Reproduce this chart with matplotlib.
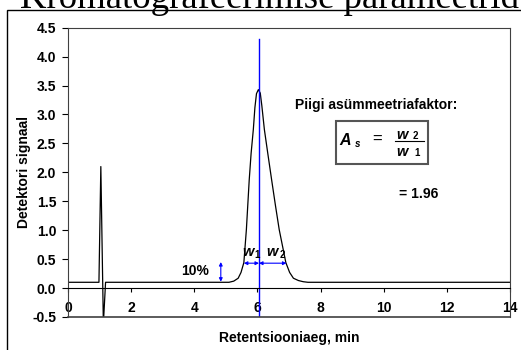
import numpy as np
import matplotlib
matplotlib.use('Agg')
import matplotlib.pyplot as plt
from matplotlib.patches import Rectangle

plt.rcParams['font.family'] = ['Liberation Sans', 'DejaVu Sans']
plt.rcParams['font.weight'] = 'bold'
plt.rcParams['axes.labelweight'] = 'bold'

# chromatogram
time = [0, 0.98, 1.04, 1.12, 1.19, 5.1, 5.25, 5.39, 5.48, 5.57, 5.65, 5.74, 5.80,
        5.87, 5.92, 5.97, 6.03, 6.09, 6.14, 6.22, 6.33, 6.45, 6.57, 6.69, 6.90,
        7.02, 7.14, 7.3, 7.45, 7.6, 14]
signal = [0.1, 0.1, 2.1, -0.62, 0.1, 0.1, 0.12, 0.17, 0.27, 0.44, 1.01, 1.87, 2.33,
          2.74, 3.12, 3.36, 3.43, 3.37, 3.15, 2.74, 2.32, 1.87, 1.43, 1.01, 0.44,
          0.27, 0.17, 0.13, 0.11, 0.1, 0.1]

peak_t = 6.05
peak_line_top = 4.3
w_level = 0.43
w1_start = 5.57
w2_end = 6.92
ten_x = 4.84
ten_low, ten_high = 0.11, 0.45
asym = 1.96

xticks = np.arange(0, 15, 2)
yticks = np.arange(-0.5, 4.51, 0.5)

fs = 10

fig = plt.figure(figsize=(5.21, 3.5), dpi=100)
fig.patches.append(Rectangle((0.0134, -0.1), 1.2, 0.1 + 0.971, transform=fig.transFigure,
                             fill=False, edgecolor='black', lw=1))
fig.text(20 / 521, 1 - 7.5 / 350, 'Kromatografeerimise parameetrid',
         family='Liberation Serif', fontweight='normal', fontsize=26.5, va='baseline', ha='left')

ax = fig.add_axes([68 / 521, 1 - 317 / 350, (510 - 68) / 521, (317 - 27.7) / 350])
ax.plot(time, signal, color='black', lw=0.9)
ax.plot([peak_t, peak_t], [-0.5, peak_line_top], color='blue', lw=1)

arrow = dict(arrowstyle='<|-|>', color='blue', lw=0.8, mutation_scale=5, shrinkA=0, shrinkB=0)
ax.annotate('', xy=(w1_start, w_level), xytext=(peak_t, w_level), arrowprops=arrow)
ax.annotate('', xy=(peak_t, w_level), xytext=(w2_end, w_level), arrowprops=arrow)
ax.annotate('', xy=(ten_x, ten_low), xytext=(ten_x, ten_high), arrowprops=arrow)

ax.text(4.04, 0.29, '10%', fontsize=fs, ha='center', va='center')
ax.text(5.52, 0.56, 'w', fontsize=10.5, style='italic', ha='left', va='baseline')
ax.text(5.89, 0.52, '1', fontsize=7, ha='left', va='baseline')
ax.text(6.28, 0.56, 'w', fontsize=10.5, style='italic', ha='left', va='baseline')
ax.text(6.69, 0.52, '2', fontsize=7, ha='left', va='baseline')

ax.text(7.19, 3.17, 'Piigi asümmeetriafaktor:', fontsize=fs, ha='left', va='center')
ax.add_patch(Rectangle((8.49, 2.145), 2.9, 0.735, fill=False, edgecolor='#555555', lw=1.5))
ax.text(8.60, 2.48, 'A', fontsize=11.5, style='italic', ha='left', va='baseline')
ax.text(9.09, 2.43, 's', fontsize=7, style='italic', ha='left', va='baseline')
ax.text(9.78, 2.57, '=', fontsize=12, fontweight='normal', ha='center', va='center')
ax.text(10.41, 2.58, 'w', fontsize=10.5, style='italic', ha='left', va='baseline')
ax.text(10.92, 2.58, '2', fontsize=7, ha='left', va='baseline')
ax.plot([10.36, 11.27], [2.54, 2.54], color='black', lw=0.8)
ax.text(10.41, 2.28, 'w', fontsize=10.5, style='italic', ha='left', va='baseline')
ax.text(10.98, 2.28, '1', fontsize=7, ha='left', va='baseline')
ax.text(10.48, 1.63, '= %.2f' % asym, fontsize=fs, ha='left', va='center')

ax.set_xlim(0, 14)
ax.set_ylim(-0.5, 4.5)
ax.set_xticks(xticks)
ax.set_xticklabels([str(v) for v in xticks])
ax.set_yticks(yticks)
ax.set_yticklabels(['%.1f' % v for v in yticks])
ax.spines['bottom'].set_position(('data', 0))
for s in ['left', 'top', 'right']:
    ax.spines[s].set_color('#404040')
ax.spines['bottom'].set_color('black')
ax.axhline(-0.5, color='#404040', lw=1.2, clip_on=False)
ax.tick_params(axis='x', direction='out', length=3, pad=6.5, labelsize=fs)
ax.tick_params(axis='y', direction='out', length=4.5, pad=4, labelsize=fs)

ax.set_xlabel('Retentsiooniaeg, min', fontsize=fs, va='center')
ax.xaxis.set_label_coords(0.5, -0.0727)
ax.set_ylabel('Detektori signaal', fontsize=fs, va='center')
ax.yaxis.set_label_coords(-0.0995, 0.5)

fig.savefig('out.png', dpi=100)
